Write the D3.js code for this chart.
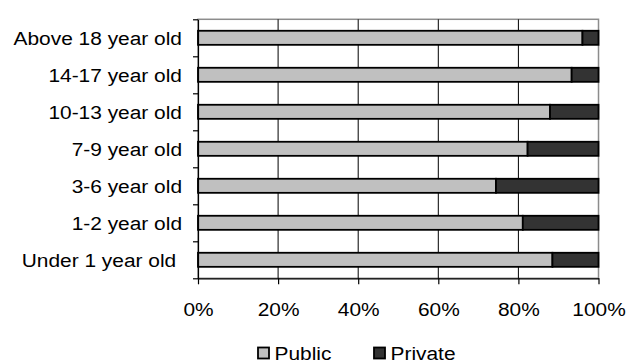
<!DOCTYPE html>
<html>
<head>
<meta charset="utf-8">
<script src="https://cdn.jsdelivr.net/npm/d3@7"></script>
<style>
  body { margin: 0; background: #fff; }
  text { font-family: "Liberation Sans", Arial, sans-serif; fill: #000; }
</style>
</head>
<body>
<svg id="chart" width="628" height="363"></svg>
<script>
// data, top row first
let ageGroups = ['Above 18 year old', '14-17 year old', '10-13 year old', '7-9 year old',
                 '3-6 year old', '1-2 year old', 'Under 1 year old\u00a0'];
let publicShare = [0.960, 0.933, 0.879, 0.823, 0.744, 0.811, 0.885];
let privateShare = publicShare.map(function(d){ return 1 - d; });
let xTicks = [0, 0.2, 0.4, 0.6, 0.8, 1];
let seriesNames = ['Public', 'Private'];
let seriesColors = ['#c0c0c0', '#333333'];

let svg = d3.select('#chart');
let plotL = 198, plotR = 598.5, plotT = 19.3, plotB = 278.3;
let stretch = 'scale(1.1,1)';
let fontSize = '19px';

let x = d3.scaleLinear().domain([0, 1]).range([plotL, plotR]);
let y = d3.scaleBand()
    .domain(ageGroups)
    .range([plotT, plotB])
    .paddingInner(0.62)
    .paddingOuter(0.31);

// plot frame (grey top/right)
svg.append('rect')
    .attr('x', plotL).attr('y', plotT)
    .attr('width', plotR - plotL).attr('height', plotB - plotT)
    .attr('fill', 'none')
    .attr('stroke', '#8c8c8c')
    .attr('stroke-width', 1.5);

// vertical gridlines
svg.append('g')
  .selectAll('line')
  .data(xTicks.slice(1, -1))
  .enter().append('line')
    .attr('x1', function(d){ return x(d); })
    .attr('x2', function(d){ return x(d); })
    .attr('y1', plotT).attr('y2', plotB)
    .attr('stroke', '#000')
    .attr('stroke-width', 1);

// stacked bars
let rows = ageGroups.map(function(a, i){
  return {age: a, vals: [publicShare[i], privateShare[i]]};
});

rows.forEach(function(r){
  let start = 0;
  r.vals.forEach(function(v, k){
    svg.append('rect')
        .attr('x', x(start))
        .attr('y', y(r.age))
        .attr('width', x(start + v) - x(start))
        .attr('height', y.bandwidth())
        .attr('fill', seriesColors[k])
        .attr('stroke', '#000')
        .attr('stroke-width', 1.8);
    start += v;
  });
});

// left axis: boundary ticks
let yb = d3.scaleLinear().domain([0, ageGroups.length]).range([plotB, plotT]);
svg.append('g')
    .attr('transform', 'translate(' + plotL + ',0)')
    .call(d3.axisLeft(yb).ticks(ageGroups.length).tickFormat('').tickSize(5).tickSizeOuter(0))
    .call(function(g){ g.selectAll('line,path').attr('stroke', '#000').attr('stroke-width', 1.2); });

// category labels
svg.append('g')
  .selectAll('text')
  .data(ageGroups)
  .enter().append('text')
    .attr('transform', function(d){
      return 'translate(182,' + (y(d) + y.bandwidth() / 2 + 7) + ') ' + stretch;
    })
    .attr('text-anchor', 'end')
    .style('font-size', fontSize)
    .text(function(d){ return d; });

// bottom axis
let xAxis = svg.append('g')
    .attr('transform', 'translate(0,' + plotB + ')')
    .call(d3.axisBottom(x).tickValues(xTicks).tickFormat(d3.format('.0%')).tickSize(6).tickSizeOuter(0));
xAxis.selectAll('line,path').attr('stroke', '#000').attr('stroke-width', 1.2);
xAxis.selectAll('text')
    .attr('y', 0).attr('dy', 0)
    .attr('transform', 'translate(0,37.7) ' + stretch)
    .attr('fill', '#000')
    .style('font-size', fontSize)
    .style('font-family', '"Liberation Sans", Arial, sans-serif');

// legend
let legend = svg.append('g').attr('transform', 'translate(258,347.5)');
let lx = [0, 116];
seriesNames.forEach(function(n, i){
  legend.append('rect')
      .attr('x', lx[i]).attr('y', 0)
      .attr('width', 11).attr('height', 11)
      .attr('fill', seriesColors[i])
      .attr('stroke', '#000')
      .attr('stroke-width', 1.8);
  legend.append('text')
      .attr('transform', 'translate(' + (lx[i] + 16.5) + ',12.3) ' + stretch)
      .style('font-size', fontSize)
      .text(n);
});
</script>
</body>
</html>
